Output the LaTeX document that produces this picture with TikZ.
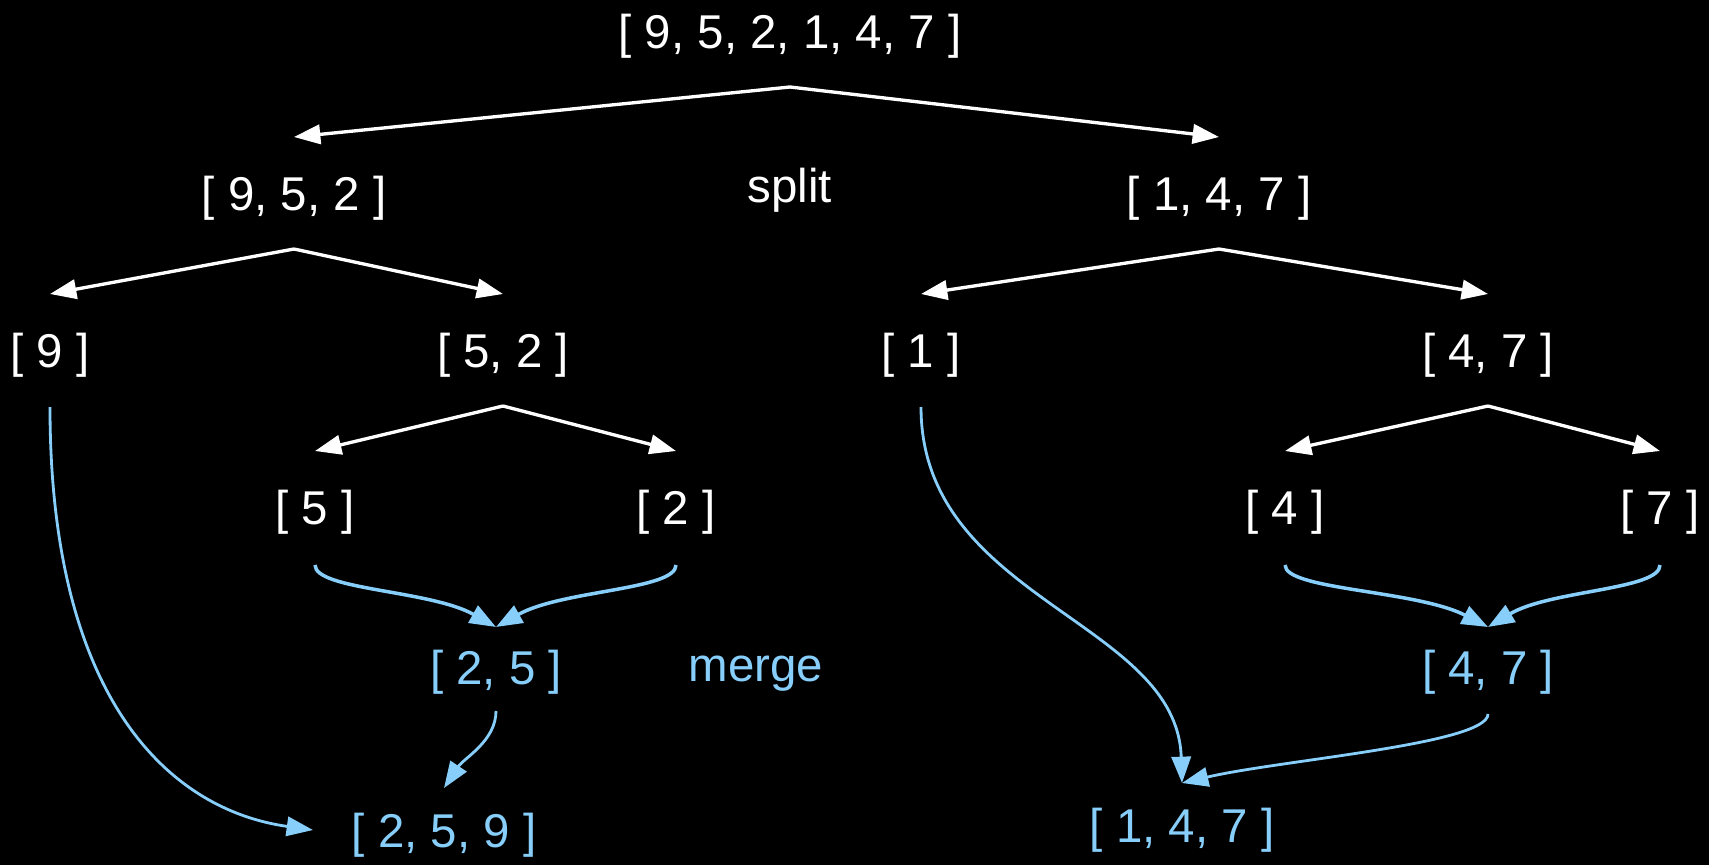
\documentclass[tikz,border=0pt]{standalone}
\usepackage{fontspec}
\setmainfont{Liberation Sans}
\usetikzlibrary{arrows.meta,calc}
\definecolor{mergeblue}{RGB}{135,206,250}
\tikzset{
  lst/.style={text=white,inner sep=0pt,font=\fontsize{27}{32}\selectfont},
  merged/.style={lst,text=mergeblue},
  lbl/.style={anchor=base,inner sep=0pt,font=\fontsize{27}{32}\selectfont},
  splitarr/.style={white,line width=1.9pt,-{Triangle[length=15pt,width=11pt]}},
  mergearr/.style={mergeblue,line width=2pt,-{Triangle[length=15pt,width=11pt]}},
  passarr/.style={mergeblue,line width=1.6pt,-{Triangle[length=15pt,width=11pt]}},
}

\begin{document}
\begin{tikzpicture}[x=0.02cm,y=-0.02cm]
    % background, same size as the reference
    \fill[black] (0,0) rectangle (1709,865);
    \useasboundingbox (0,0) rectangle (1709,865);
    % ---------------- split ----------------
    \node[lst] (all) at (790,36) {[ 9, 5, 2, 1, 4, 7 ]};
    \node[lst] (l) at (294,198) {[ 9, 5, 2 ]};
    \node[lst] (r) at (1219,198) {[ 1, 4, 7 ]};
    \node[lbl,text=white] (split) at (790,202) {split};
    \node[lst] (ll) at (50,355) {[ 9 ]};
    \node[lst] (lr) at (503,355) {[ 5, 2 ]};
    \node[lst] (rl) at (921,355) {[ 1 ]};
    \node[lst] (rr) at (1488,355) {[ 4, 7 ]};
    \node[lst] (lrl) at (315,512) {[ 5 ]};
    \node[lst] (lrr) at (676,512) {[ 2 ]};
    \node[lst] (rrl) at (1285,512) {[ 4 ]};
    \node[lst] (rrr) at (1660,512) {[ 7 ]};
    \foreach \p/\c in {all/l,all/r,l/ll,l/lr,r/rl,r/rr,lr/lrl,lr/lrr,rr/rrl,rr/rrr}
      \draw[splitarr] ($(\p)+(0,51)$) -- ($(\c)+(0,-61)$);
    % ---------------- merge ----------------
    \node[merged] (lrm) at (496,672) {[ 2, 5 ]};
    \node[lbl,text=mergeblue] (merge) at (756,681) {merge};
    \node[merged] (rrm) at (1488,672) {[ 4, 7 ]};
    \node[merged] (lm) at (444,835) {[ 2, 5, 9 ]};
    \node[merged] (rm) at (1182,830) {[ 1, 4, 7 ]};
    % pairs of singletons
    \draw[mergearr] ($(lrl)+(0,53)$) .. controls +(0,25) and +(-66,-37) .. ($(lrm)+(0,-45)$);
    \draw[mergearr] ($(lrr)+(0,53)$) .. controls +(0,25) and +(66,-37) .. ($(lrm)+(0,-45)$);
    \draw[mergearr] ($(rrl)+(0,53)$) .. controls +(0,25) and +(-72,-37) .. ($(rrm)+(0,-45)$);
    \draw[mergearr] ($(rrr)+(0,53)$) .. controls +(0,25) and +(62,-37) .. ($(rrm)+(0,-45)$);
    % into the final halves
    \draw[passarr] ($(ll)+(0,52)$) .. controls +(0,293) and +(-143,-20) .. ($(lm)+(-131,-5)$);
    \draw[passarr] ($(lrm)+(0,39)$) .. controls +(0,30) and +(20,-30) .. ($(lm)+(0,-47)$);
    \draw[passarr] ($(rl)+(0,52)$) .. controls +(0,193) and +(-5,-163) .. ($(rm)+(0,-47)$);
    \draw[passarr] ($(rrm)+(0,42)$) .. controls +(0,30) and +(98,-23) .. ($(rm)+(0,-47)$);
\end{tikzpicture}
\end{document}
